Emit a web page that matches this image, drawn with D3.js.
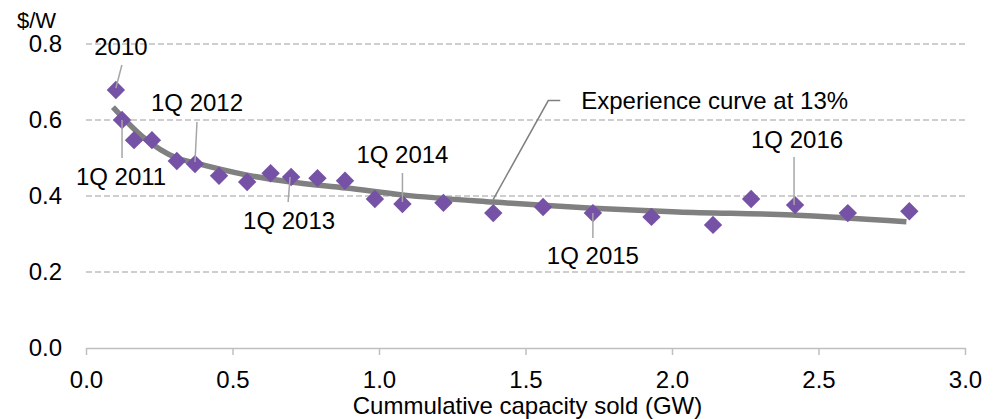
<!DOCTYPE html>
<html lang="en">
<head>
  <meta charset="UTF-8">
  <style>
    body {
      margin: 0;
      overflow: hidden;
      background: #fff;
    }

    svg {
      display: block;
      font-family: "Liberation Sans", Arial, sans-serif;
    }

    .grid line {
      stroke: #bfbfbf;
      stroke-width: 1.3;
      stroke-dasharray: 6, 3;
    }

    .leader {
      fill: none;
      stroke: #a6a6a6;
      stroke-width: 1.5;
    }
  </style>
  <script src="https://d3js.org/d3.v7.min.js"></script>
</head>
<body>

<svg id="chart"></svg>

<script>
  // cumulative capacity sold (GW) and price ($/W), 2010 then quarterly from 1Q 2011
  const capacity = [0.102, 0.123, 0.164, 0.225, 0.31, 0.372, 0.454, 0.55, 0.63, 0.70, 0.79, 0.884,
                    0.986, 1.08, 1.22, 1.39, 1.56, 1.73, 1.93, 2.14, 2.27, 2.42, 2.60, 2.81];
  const price = [0.679, 0.60, 0.547, 0.547, 0.492, 0.484, 0.453, 0.437, 0.46, 0.45, 0.447, 0.44,
                 0.392, 0.379, 0.382, 0.355, 0.371, 0.355, 0.345, 0.324, 0.392, 0.376, 0.355, 0.36];

  // experience curve at 13%
  const curveX = [0.092, 0.195, 0.31, 0.372, 0.55, 0.70, 0.89, 1.08, 1.39, 1.73, 2.02, 2.41, 2.80];
  const curveY = [0.634, 0.555, 0.50, 0.487, 0.455, 0.437, 0.421, 0.403, 0.384, 0.368, 0.358, 0.35, 0.332];

  const xTicks = [0, 0.5, 1, 1.5, 2, 2.5, 3];
  const yTicks = [0, 0.2, 0.4, 0.6, 0.8];

  const pointLabels = ["2010", "1Q 2011", "1Q 2012", "1Q 2013", "1Q 2014", "1Q 2015", "1Q 2016"];
  const labelIndex = [0, 1, 5, 9, 13, 17, 21];
  const curveLabel = "Experience curve at 13%";

  // label placement: text offset (dx, dy baseline) and leader ends, relative to the point
  const labelLayout = [
    { dx: 5, dy: -35, l1: [6, -25], l2: [0, -2] },
    { dx: -1, dy: 65, l1: [0, 0], l2: [0, 38] },
    { dx: 2, dy: -53, l1: [2, -42], l2: [0, -2] },
    { dx: -2, dy: 52, l1: [-1, 0], l2: [-3, 25] },
    { dx: 0, dy: -41, l1: [0, -31], l2: [0, -2] },
    { dx: 0, dy: 51, l1: [0, 0], l2: [0, 25] },
    { dx: 2, dy: -57, l1: [-1, -48], l2: [-1, 0] }
  ];

  const width = 1004, height = 419;
  const fontSize = 24;

  const svg = d3.select("#chart")
    .attr("width", width)
    .attr("height", height);

  const x = d3.scaleLinear().domain([0, 3]).range([86, 965]);
  const y = d3.scaleLinear().domain([0, 0.8]).range([348, 44]);

  // dashed gridlines
  svg.append("g")
    .attr("class", "grid")
    .selectAll("line")
    .data(yTicks.filter(d => d > 0))
    .join("line")
    .attr("x1", x(0))
    .attr("x2", x(3))
    .attr("y1", d => y(d))
    .attr("y2", d => y(d));

  // x axis
  const xAxis = svg.append("g")
    .attr("transform", `translate(0,${y(0)})`)
    .call(d3.axisBottom(x).tickValues(xTicks).tickFormat(d3.format(".1f"))
      .tickSizeInner(7).tickSizeOuter(0).tickPadding(16));
  xAxis.select(".domain").attr("stroke", "#bfbfbf").attr("stroke-width", 1.5);
  xAxis.selectAll(".tick line").attr("stroke", "#bfbfbf").attr("stroke-width", 1.5);
  xAxis.selectAll(".tick text")
    .attr("font-size", fontSize)
    .attr("font-family", "Liberation Sans, Arial, sans-serif")
    .attr("fill", "#000");

  // y axis (labels only)
  const yAxis = svg.append("g")
    .attr("transform", `translate(${x(0)},0)`)
    .call(d3.axisLeft(y).tickValues(yTicks).tickFormat(d3.format(".1f"))
      .tickSize(0).tickPadding(24));
  yAxis.select(".domain").remove();
  yAxis.selectAll(".tick text")
    .attr("font-size", fontSize)
    .attr("font-family", "Liberation Sans, Arial, sans-serif")
    .attr("fill", "#000");

  svg.append("text")
    .attr("x", 17)
    .attr("y", 28)
    .attr("font-size", fontSize - 2)
    .text("$/W");

  svg.append("text")
    .attr("x", (x(0) + x(3)) / 2 + 2)
    .attr("y", 414)
    .attr("text-anchor", "middle")
    .attr("font-size", fontSize)
    .text("Cummulative capacity sold (GW)");

  // experience curve
  const curvePts = curveX.map((d, i) => [d, curveY[i]]);
  svg.append("path")
    .datum(curvePts)
    .attr("fill", "none")
    .attr("stroke", "#808080")
    .attr("stroke-width", 5.5)
    .attr("d", d3.line().x(d => x(d[0])).y(d => y(d[1])).curve(d3.curveMonotoneX));

  // diamonds
  const pts = capacity.map((d, i) => ({ cx: x(d), cy: y(price[i]) }));
  svg.append("g")
    .selectAll("path")
    .data(pts)
    .join("path")
    .attr("d", d3.symbol().type(d3.symbolSquare).size(13 * 13))
    .attr("transform", d => `translate(${d.cx},${d.cy}) rotate(45)`)
    .attr("fill", "#7652a6");

  // leader lines for quarter labels (drawn over the diamonds)
  pointLabels.forEach((label, k) => {
    const p = pts[labelIndex[k]];
    const L = labelLayout[k];
    svg.append("line")
      .attr("class", "leader")
      .attr("x1", p.cx + L.l1[0]).attr("y1", p.cy + L.l1[1])
      .attr("x2", p.cx + L.l2[0]).attr("y2", p.cy + L.l2[1]);
  });

  // leader for the curve label
  const cx0 = x(1.39), cy0 = y(0.386);
  svg.append("polyline")
    .attr("class", "leader")
    .style("stroke", "#808080")
    .attr("points", [[cx0, cy0 - 2], [cx0 + 55, y(0.651)], [cx0 + 67, y(0.651)]].join(" "));

  // labels
  pointLabels.forEach((label, k) => {
    const p = pts[labelIndex[k]];
    const L = labelLayout[k];
    svg.append("text")
      .attr("x", p.cx + L.dx)
      .attr("y", p.cy + L.dy)
      .attr("text-anchor", "middle")
      .attr("font-size", fontSize)
      .text(label);
  });

  svg.append("text")
    .attr("x", cx0 + 88)
    .attr("y", y(0.63))
    .attr("font-size", fontSize)
    .text(curveLabel);
</script>

</body>
</html>
